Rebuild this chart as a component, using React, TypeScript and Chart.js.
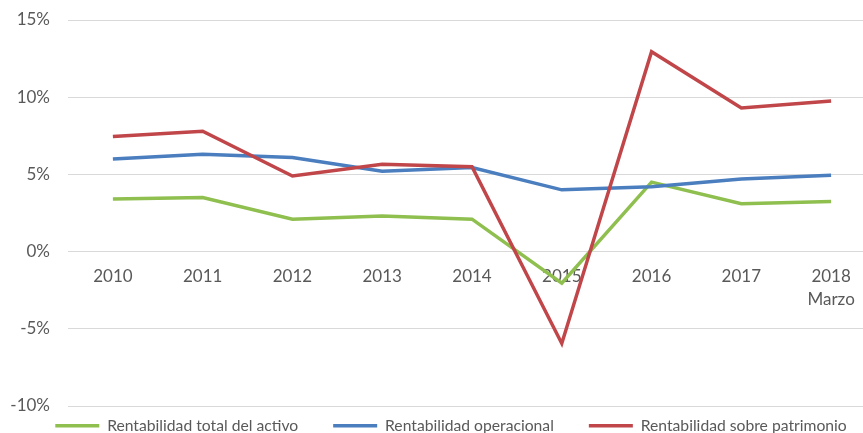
import React, { useEffect, useRef } from "react";
import { Chart, registerables } from "chart.js";

Chart.register(...registerables);

const years: (string | string[])[] = ["2010", "2011", "2012", "2013", "2014", "2015", "2016", "2017", ["2018", "Marzo"]];
const activo = [3.4, 3.5, 2.1, 2.3, 2.1, -2.05, 4.5, 3.1, 3.25];
const operacional = [6.0, 6.3, 6.1, 5.2, 5.45, 4.0, 4.2, 4.7, 4.95];
const patrimonio = [7.45, 7.8, 4.9, 5.65, 5.5, -5.95, 12.95, 9.3, 9.75];
const seriesNames = ["Rentabilidad total del activo", "Rentabilidad operacional", "Rentabilidad sobre patrimonio"];
const colors = ["#8FBF4F", "#4A7EBF", "#C0464A"];

const FONT = "Lato, 'Open Sans', sans-serif";
const TEXT = "#595959";
const LEGEND_DY = 23;
const LEGEND_DX = 13;

const legendShift = {
  id: "legendShift",
  afterLayout(chart: any) {
    const l = chart.legend;
    if (!l) return;
    l.top -= LEGEND_DY;
    l.bottom = chart.height;
    l.left += LEGEND_DX;
    l.right += LEGEND_DX;
  },
};

export default function App() {
  const ref = useRef<HTMLCanvasElement>(null);
  useEffect(() => {
    if (!ref.current) return;
    const series = [activo, operacional, patrimonio];
    const chart = new Chart(ref.current, {
      type: "line",
      data: {
        labels: years as any,
        datasets: series.map((d, i) => ({
          label: seriesNames[i],
          data: d,
          borderColor: colors[i],
          backgroundColor: colors[i],
          borderWidth: 3.5,
          pointRadius: 0,
          tension: 0,
          order: 3 - i,
        })),
      },
      options: {
        animation: false,
        responsive: false,
        devicePixelRatio: 1,
        layout: { padding: { top: 20, right: 24, left: 0, bottom: 0 } },
        plugins: {
          tooltip: { enabled: false },
          legend: {
            position: "bottom",
            maxHeight: 27,
            labels: {
              usePointStyle: true,
              pointStyle: "line",
              pointStyleWidth: 44,
              padding: 35,
              color: TEXT,
              font: { family: FONT, size: 15.7 },
              sort: (a: any, b: any) => a.datasetIndex - b.datasetIndex,
            },
          },
        },
        scales: {
          x: {
            position: { y: 0 } as any,
            offset: true,
            grid: { display: false, drawTicks: false },
            border: { display: false },
            ticks: {
              color: TEXT,
              padding: 13,
              font: { family: FONT, size: 17, lineHeight: 1.35 },
              maxRotation: 0,
              autoSkip: false,
            },
          },
          y: {
            min: -10,
            max: 15,
            afterFit: (s: any) => {
              s.width = 68;
              s.paddingTop = 0;
              s.paddingBottom = 0;
            },
            grid: { color: "#D9D9D9", lineWidth: 1, drawTicks: false },
            border: { display: false },
            ticks: {
              stepSize: 5,
              padding: 18,
              color: TEXT,
              font: { family: FONT, size: 17 },
              callback: (v: any) => v + "%",
            },
          },
        },
      },
      plugins: [legendShift],
    });
    return () => chart.destroy();
  }, []);
  return (
    <div style={{ position: "fixed", left: 0, top: 0, width: 863, height: 433, overflow: "hidden", background: "#fff" }}>
      <canvas ref={ref} width={900} height={433} style={{ display: "block", width: 900, height: 433 }} />
    </div>
  );
}
